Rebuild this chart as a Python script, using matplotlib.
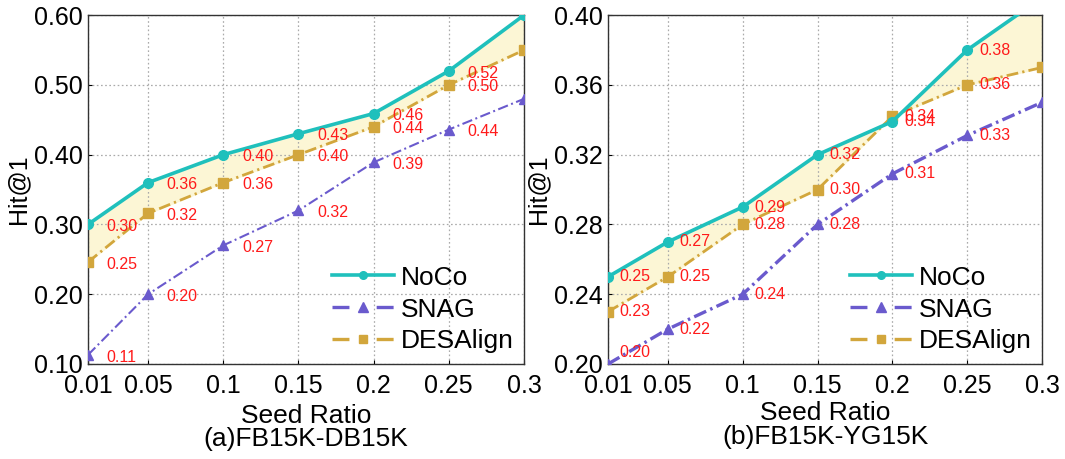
import matplotlib
matplotlib.use("Agg")
import matplotlib.pyplot as plt
from matplotlib.lines import Line2D

plt.rcParams['font.family'] = ['Liberation Sans', 'DejaVu Sans']
plt.rcParams['lines.scale_dashes'] = False

ratios = [0.01, 0.05, 0.1, 0.15, 0.2, 0.25, 0.3]
ratio_labels = ["0.01", "0.05", "0.1", "0.15", "0.2", "0.25", "0.3"]

# (a) FB15K-DB15K
noco_a = [0.30, 0.36, 0.40, 0.43, 0.459, 0.52, 0.60]
snag_a = [0.113, 0.20, 0.27, 0.32, 0.389, 0.436, 0.48]
desa_a = [0.246, 0.316, 0.36, 0.40, 0.44, 0.50, 0.55]
yticks_a = [0.10, 0.20, 0.30, 0.40, 0.50, 0.60]

# (b) FB15K-YG15K
noco_b = [0.25, 0.27, 0.29, 0.32, 0.339, 0.38, 0.41]
snag_b = [0.20, 0.22, 0.24, 0.28, 0.309, 0.331, 0.35]
desa_b = [0.23, 0.25, 0.28, 0.30, 0.342, 0.36, 0.37]
yticks_b = [0.20, 0.24, 0.28, 0.32, 0.36, 0.40]

C_NOCO = "#1fc0bc"
C_SNAG = "#6a5acd"
C_DESA = "#d2a63c"
C_FILL = "#fcf6d5"
C_LBL = "#ff1a1a"

fig = plt.figure(figsize=(10.65, 4.59), dpi=100)
H = 0.760
ax1 = fig.add_axes([0.0826, 0.207, 0.4094, H])
ax2 = fig.add_axes([0.5709, 0.207, 0.4075, H])


def draw(ax, noco, snag, desa, yticks, title, snag_lw, snag_dash, lbl_dx, lbl_dy, sub_y):
    x = ratios
    ax.fill_between(x, noco, desa, color=C_FILL, zorder=1)
    ax.plot(x, noco, color=C_NOCO, lw=2.6, marker='o', ms=7, zorder=4)
    ax.plot(x, snag, color=C_SNAG, lw=snag_lw, ls=(0, snag_dash), marker='^', ms=7.5,
            zorder=3)
    ax.plot(x, desa, color=C_DESA, lw=2.0, ls=(0, (8.5, 3.0, 1.6, 3.0)), marker='s',
            ms=6.5, zorder=3)
    y0 = yticks[0]
    for series in (noco, snag, desa):
        for i in range(len(x) - 1):
            dy = lbl_dy
            if series[i] - y0 < 0.004:
                dy = 8
            ax.annotate(f"{series[i]:.2f}", (x[i], series[i]), xytext=(lbl_dx, dy),
                        textcoords='offset points', ha='left', va='center',
                        color=C_LBL, fontsize=11.5, zorder=5)
    ax.set_xlim(ratios[0], ratios[-1])
    ax.set_ylim(yticks[0], yticks[-1])
    ax.set_xticks(x)
    ax.set_xticklabels(ratio_labels)
    ax.set_yticks(yticks)
    ax.set_yticklabels([f"{v:.2f}" for v in yticks])
    ax.tick_params(axis='both', labelsize=18, length=3, direction='in', colors='black')
    ax.tick_params(axis='x', pad=7)
    ax.tick_params(axis='y', pad=4)
    ax.grid(True, ls=(0, (1.2, 1.8)), color='#aaaaaa', lw=0.9)
    for s in ax.spines.values():
        s.set_color('#333333')
        s.set_linewidth(1.0)
    ax.set_ylabel("Hit@1", fontsize=18, labelpad=2)
    ax.text(0.5, sub_y[0], "Seed Ratio", transform=ax.transAxes, ha='center',
            va='baseline', fontsize=19)
    ax.text(0.5, sub_y[1], title, transform=ax.transAxes, ha='center',
            va='baseline', fontsize=19)
    handles = [
        Line2D([], [], color=C_NOCO, lw=2.6, marker='o', ms=5.5),
        Line2D([], [], color=C_SNAG, lw=2.4, ls=(0, (12.2, 19.6)), marker='^', ms=7),
        Line2D([], [], color=C_DESA, lw=2.4, ls=(0, (12.2, 19.6)), marker='s', ms=6),
    ]
    ax.legend(handles, ['NoCo', 'SNAG', 'DESAlign'], loc='lower right', frameon=False,
              fontsize=19, handlelength=2.35, handletextpad=0.25, labelspacing=0.3,
              borderaxespad=0.1, borderpad=0.3)


draw(ax1, noco_a, snag_a, desa_a, yticks_a, "(a)FB15K-DB15K",
     1.5, (7.5, 2.5, 1.4, 2.5), 13.5, -1.5, (-0.169, -0.235))
draw(ax2, noco_b, snag_b, desa_b, yticks_b, "(b)FB15K-YG15K",
     2.4, (9.5, 3.2, 1.8, 3.2), 8.5, 0, (-0.160, -0.229))

fig.savefig("out.png", dpi=100)
